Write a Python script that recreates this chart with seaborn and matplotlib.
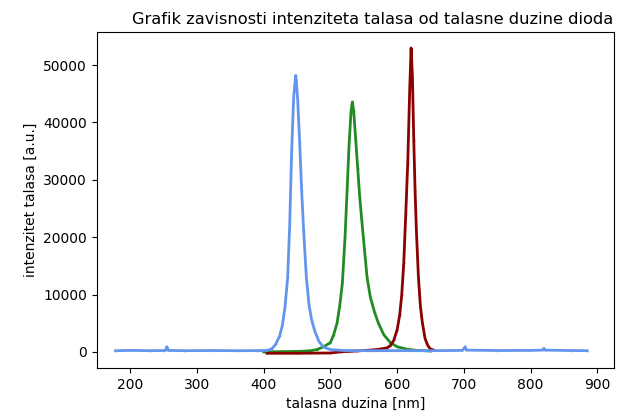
import numpy as np
import pandas as pd
import matplotlib
matplotlib.use("Agg")
import matplotlib.pyplot as plt
import seaborn as sns

# Blue diode spectrum (nm, intensity)
blue_nm = [178, 200, 230, 250, 253, 255, 257, 280, 320, 360, 390, 405, 412, 418, 424, 428,
           432, 436, 439, 442, 445, 447, 448, 449, 451, 454, 457, 460, 464, 468, 472, 477,
           483, 490, 500, 520, 560, 600, 650, 698, 701, 702, 704, 750, 800, 818, 820, 822,
           860, 885]
blue_int = [200, 250, 200, 230, 300, 900, 250, 200, 230, 200, 210, 250, 500, 1300, 2800, 4600,
            7800, 13000, 22000, 35000, 44500, 47000, 48200, 47300, 44000, 36500, 28000, 21000,
            13000, 8200, 5500, 3500, 1800, 800, 400, 230, 200, 210, 200, 250, 700, 900, 300,
            230, 250, 300, 600, 300, 230, 200]

# Green diode spectrum
green_nm = [400, 420, 440, 460, 470, 480, 490, 500, 505, 510, 514, 518, 522, 525, 528, 531, 533,
            535, 538, 541, 544, 547, 551, 555, 560, 566, 572, 580, 590, 600, 615, 630, 650]
green_int = [0, 30, 60, 120, 200, 400, 900, 1600, 3000, 5000, 8000, 12000, 20000, 28000,
             36000, 42000, 43600, 42000, 37000, 32000, 27000, 23000, 18000, 13000, 9500,
             7000, 5000, 3000, 1600, 900, 450, 250, 150]

# Red diode spectrum
red_nm = [405, 450, 500, 515, 540, 570, 585, 590, 595, 600, 604, 607, 610, 613, 616, 619, 621,
          623, 625, 627, 629, 632, 635, 638, 642, 646, 650, 655]
red_int = [-250, -250, -200, 0, 150, 400, 700, 1100, 2000, 3800, 6500, 10000, 15500, 24000,
           33000, 46000, 53000, 48000, 37000, 28000, 21000, 13000, 7900, 5000, 2300, 1100, 500, 300]

title = "Grafik zavisnosti intenziteta talasa od talasne duzine dioda"
xlabel = "talasna duzina [nm]"
ylabel = "intenzitet talasa [a.u.]"

fig = plt.figure(figsize=(6.29, 4.18), dpi=100)
ax = fig.add_axes([0.154, 0.12, 0.822, 0.803])

for nm, val, col in [(green_nm, green_int, "forestgreen"),
                     (red_nm, red_int, "darkred"),
                     (blue_nm, blue_int, "cornflowerblue")]:
    df = pd.DataFrame({"nm": nm, "int": val})
    sns.lineplot(data=df, x="nm", y="int", color=col, linewidth=2.0,
                 marker=".", markersize=2.5, markeredgewidth=0, ax=ax)

ax.set_title(title, fontsize=11.7, x=0.534)
ax.set_xlabel(xlabel)
ax.set_ylabel(ylabel)
ax.set_xticks([200, 300, 400, 500, 600, 700, 800, 900])
ax.set_yticks([0, 10000, 20000, 30000, 40000, 50000])
ax.set_xlim(150, 925)
ax.set_ylim(-2790, 55750)

fig.savefig("out.png", dpi=100)
